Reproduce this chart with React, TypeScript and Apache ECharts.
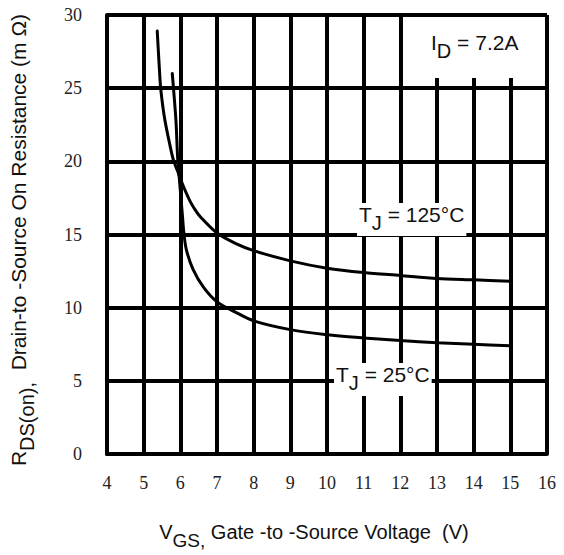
import React, { useEffect, useRef } from "react";
import * as echarts from "echarts";

// Gate-source voltage (V) and on-resistance (mΩ)
const vgs125 = [5.37, 5.42, 5.46, 5.52, 5.58, 5.7, 5.81, 5.93, 6.05, 6.15, 6.26, 6.4, 6.55, 7, 7.5, 8, 9, 10, 11, 12, 13, 14, 15];
const rds125 = [28.9, 26.7, 25.1, 23.8, 22.8, 21.3, 20.1, 19.3, 18.5, 17.9, 17.3, 16.7, 16.2, 15.1, 14.4, 13.9, 13.2, 12.7, 12.4, 12.2, 12.0, 11.9, 11.8];
const vgs25 = [5.78, 5.81, 5.88, 5.93, 5.99, 6.06, 6.1, 6.17, 6.35, 6.63, 7, 7.5, 8, 9, 10, 11, 12, 13, 14, 15];
const rds25 = [26.0, 25.1, 22.8, 20.1, 18.3, 16.2, 15.0, 13.9, 12.6, 11.4, 10.4, 9.7, 9.1, 8.5, 8.15, 7.93, 7.75, 7.61, 7.5, 7.4];

const xMin = 4;
const xMax = 16;
const yMin = 0;
const yMax = 30;
const yStep = 5;

const seriesNames = ["TJ = 125°C", "TJ = 25°C"];

const SANS = "Liberation Sans, Arial, sans-serif";
const SERIF = "Liberation Serif, Times New Roman, serif";

function subText(main1: string, sub: string, main2: string, x: number, y: number, opts: any = {}) {
  const size = opts.size || 20;
  return {
    type: "text",
    x,
    y,
    z: 100,
    rotation: opts.rotation || 0,
    style: {
      text: `{m|${main1}}{s|${sub}}{m|${main2}}`,
      align: opts.align || "left",
      verticalAlign: opts.verticalAlign || "top",
      backgroundColor: opts.bg || undefined,
      padding: opts.bg ? [1, 2, 1, 2] : 0,
      rich: {
        m: { fontSize: size, fontFamily: SANS, lineHeight: size + 2, verticalAlign: "top", fill: "#111" },
        s: {
          fontSize: opts.subSize || size - 1,
          fontFamily: SANS,
          lineHeight: size + 10,
          padding: [9, 0, 0, 0],
          verticalAlign: "top",
          fill: "#111",
        },
      },
    },
  };
}

export default function App() {
  const ref = useRef<HTMLDivElement>(null);
  useEffect(() => {
    const chart = echarts.init(ref.current!, null, { renderer: "svg" });
    const gridLine = { color: "#000", width: 4 };
    chart.setOption({
      animation: false,
      backgroundColor: "#fff",
      grid: { left: 107, right: 17, top: 15, bottom: 101, containLabel: false },
      xAxis: {
        type: "value",
        min: xMin,
        max: xMax,
        interval: 1,
        axisLine: { show: true, onZero: false, lineStyle: gridLine },
        axisTick: { show: false },
        splitLine: { show: true, lineStyle: gridLine },
        axisLabel: { fontFamily: SERIF, fontSize: 18, color: "#222", margin: 20 },
      },
      yAxis: {
        type: "value",
        min: yMin,
        max: yMax,
        interval: yStep,
        axisLine: { show: true, onZero: false, lineStyle: gridLine },
        axisTick: { show: false },
        splitLine: { show: true, lineStyle: gridLine },
        axisLabel: { fontFamily: SERIF, fontSize: 18, color: "#222", margin: 25 },
      },
      series: [
        {
          name: seriesNames[0],
          type: "line",
          data: vgs125.map((v, i) => [v, rds125[i]]),
          smooth: 0.3,
          symbol: "none",
          z: 5,
          lineStyle: { color: "#000", width: 3, cap: "round" },
        },
        {
          name: seriesNames[1],
          type: "line",
          data: vgs25.map((v, i) => [v, rds25[i]]),
          smooth: 0.3,
          symbol: "none",
          z: 5,
          lineStyle: { color: "#000", width: 3, cap: "round" },
        },
      ],
      graphic: [
        { type: "rect", z: 99, shape: { x: 425, y: 17, width: 103, height: 61 }, style: { fill: "#fff" } },
        subText("I", "D", " = 7.2A", 431, 32, { size: 21 }),
        subText("T", "J", " = 125°C", 357, 203, { bg: "#fff", size: 21 }),
        subText("T", "J", " = 25°C", 334, 363, { bg: "#fff", size: 21 }),
        subText("V", "GS,", " Gate -to -Source Voltage  (V)", 314, 522, { align: "center" }),
        subText("R", "DS(on),", "  Drain-to -Source On Resistance (m Ω)", 8, 240, {
          align: "center",
          rotation: Math.PI / 2,
          size: 21,
        }),
      ],
    });
    return () => chart.dispose();
  }, []);
  return <div ref={ref} style={{ position: "fixed", left: 0, top: 0, width: 564, height: 555 }} />;
}
